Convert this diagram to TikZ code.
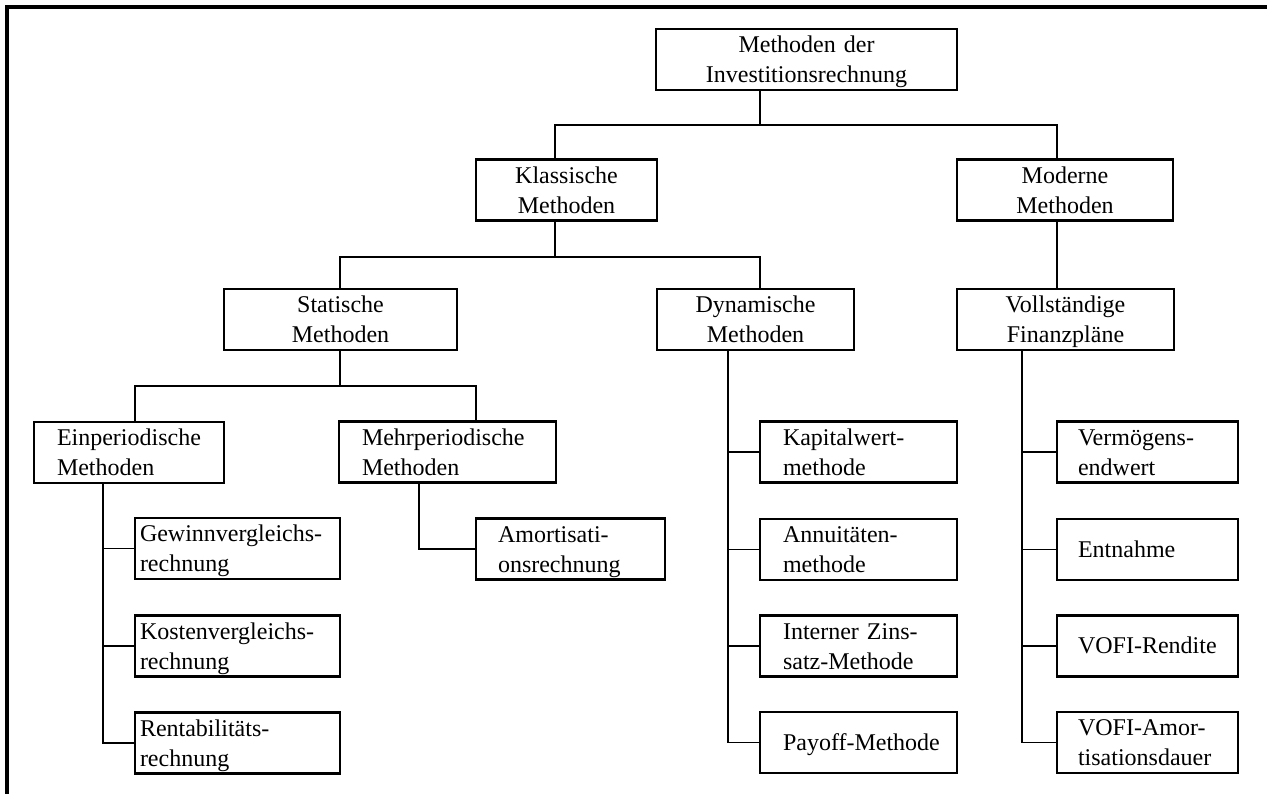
\documentclass[tikz,border=0pt]{standalone}
\usepackage{fontspec}
\setmainfont{Liberation Serif}
\usepackage{tikz}
\usetikzlibrary{positioning,calc}

\begin{document}
\begin{tikzpicture}[x=0.5pt, y=-0.5pt,
    box/.style={draw, line width=1.3pt, minimum height=30.5pt, inner ysep=0pt,
        font=\fontsize{12}{15}\selectfont, text height=9pt, text depth=16pt},
    cbox/.style={box, align=center, inner xsep=2pt, text width=#1},
    lbox/.style 2 args={box, align=left, inner xsep=#2, text width=#1},
    single/.style={text height=8pt, text depth=0.5pt},
    frame/.style={line width=1.8pt},
    bus/.style={line width=1.4pt},
    twig/.style={line width=0.7pt}]
    \useasboundingbox (0,0) rectangle (1267,794);
    \draw[frame] (1267,7) -- (7,7) -- (7,794);

    % upper levels
    \node[cbox=146.5pt] (root) at (806.5,59.5) {Methoden der\\Investitionsrechnung};
    \node[cbox=86.5pt] (klass) at (566.5,190) {Klassische\\Methoden};
    \node[cbox=104pt] (modern) at (1065,190) {Moderne\\Methoden};
    \node[cbox=112.5pt] (stat) at (340.5,319.5) {Statische\\Methoden};
    \node[cbox=94.5pt] (dyn) at (755.5,319.5) {Dynamische\\Methoden};
    \node[cbox=104.5pt] (voll) at (1065.5,319.5) {Vollständige\\Finanzpläne};
    \node[lbox={72pt}{11.5pt}] (einp) at (129,452.5) {\mbox{Einperiodische}\\Methoden};
    \node[lbox={85.5pt}{11.5pt}] (mehrp) at (447.5,452) {\mbox{Mehrperiodische}\\Methoden};

    % leaves
    \node[lbox={97.5pt}{2.5pt}] (gewinn) at (237.5,548.5) {\mbox{Gewinnvergleichs-}\\rechnung};
    \node[lbox={97.5pt}{2.5pt}] (kosten) at (237.5,646) {\mbox{Kostenvergleichs-}\\rechnung};
    \node[lbox={97.5pt}{2.5pt}] (rentab) at (237.5,743) {Rentabilitäts-\\rechnung};
    \node[lbox={72.5pt}{11pt}] (amort) at (570.5,549) {Amortisati-\\onsrechnung};
    \node[lbox={75.5pt}{11.5pt}] (kapw) at (858.5,452) {Kapitalwert-\\methode};
    \node[lbox={75.5pt}{11.5pt}] (annu) at (858.5,549.5) {Annuitäten-\\methode};
    \node[lbox={75.5pt}{11.5pt}] (izins) at (858.5,646) {\mbox{Interner Zins-}\\\mbox{satz-Methode}};
    \node[lbox={75.5pt}{11.5pt}, single] (payoff) at (858.5,742.5) {\mbox{Payoff-Methode}};
    \node[lbox={69.5pt}{10.5pt}] (vermoeg) at (1147.5,452) {Vermögens-\\endwert};
    \node[lbox={69.5pt}{10.5pt}, single] (entn) at (1147.5,549.5) {Entnahme};
    \node[lbox={69.5pt}{10.5pt}, single] (vrend) at (1147.5,646) {\mbox{VOFI-Rendite}};
    \node[lbox={69.5pt}{10.5pt}] (vamort) at (1147.5,742.5) {VOFI-Amor-\\\mbox{tisationsdauer}};

    % bus lines
    \coordinate (j1) at (760,125);
    \coordinate (j1l) at (555,125);
    \coordinate (j1r) at (1057,125);
    \coordinate (j2l) at (340,257);
    \coordinate (j2r) at (760,257);
    \coordinate (j3l) at (135,386);
    \coordinate (j3r) at (476,386);
    \draw[bus] (root.south -| j1) -- (j1);
    \draw[bus] (klass.north -| j1l) -- (j1l) -- (j1r) -- (modern.north -| j1r);
    \draw[bus] (klass.south -| j1l) -- (j1l |- j2l);
    \draw[bus] (stat.north -| j2l) -- (j2l) -- (j2r) -- (dyn.north -| j2r);
    \draw[bus] (modern.south -| j1r) -- (voll.north -| j1r);
    \draw[bus] (stat.south -| j2l) -- (j2l |- j3l);
    \draw[bus] (einp.north -| j3l) -- (j3l) -- (j3r) -- (mehrp.north -| j3r);

    % spines to the leaves
    \coordinate (s1) at (103,0);
    \coordinate (s2) at (419,0);
    \coordinate (s3) at (728,0);
    \coordinate (s4) at (1022,0);
    \foreach \c in {gewinn,kosten,rentab}
        \draw[twig] (einp.south -| s1) |- (\c.west);
    \draw[twig] (mehrp.south -| s2) |- (amort.west);
    \foreach \c in {kapw,annu,izins,payoff}
        \draw[twig] (dyn.south -| s3) |- (\c.west);
    \foreach \c in {vermoeg,entn,vrend,vamort}
        \draw[twig] (voll.south -| s4) |- (\c.west);
\end{tikzpicture}
\end{document}
